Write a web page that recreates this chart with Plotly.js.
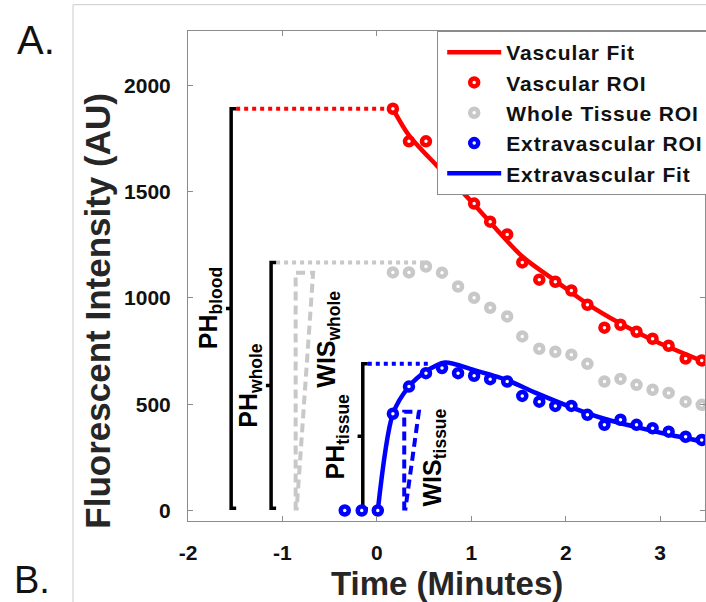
<!DOCTYPE html>
<html>
<head>
<meta charset="utf-8">
<script src="https://cdn.plot.ly/plotly-3.0.1.min.js"></script>
<style>html,body{margin:0;padding:0;background:#fff;overflow:hidden;} #chart{width:706px;height:602px;} .legendtext{letter-spacing:0.9px;}</style>
</head>
<body>
<div id="chart"></div>
<script>
// ---- data (time in minutes, intensity in AU) ----
const timeBlue = [-0.34,-0.16,0.01,0.17,0.34,0.52,0.69,0.86,1.03,1.20,1.38,1.54,1.72,1.89,2.06,2.23,2.41,2.58,2.75,2.92,3.09,3.27,3.44];
const extraROI = [0,0,0,455,583,646,670,646,634,618,607,539,512,492,492,450,403,427,403,387,371,347,332];
const timeROI = [0.17,0.34,0.52,0.69,0.86,1.03,1.20,1.38,1.54,1.72,1.89,2.06,2.23,2.41,2.58,2.75,2.92,3.09,3.27,3.44];
const vascROI = [1890,1737,1737,null,null,1444,1359,1299,1167,1086,1076,1035,968,860,874,841,808,775,715,706];
const wholeROI = [1120,1120,1148,1119,1054,1001,954,913,819,761,747,733,690,607,619,591,568,553,512,497];
const vascFitT = [0.17,0.34,0.63,0.85,1.03,1.54,1.90,2.22,2.57,2.92,3.45];
const vascFitY = [1890,1765,1625,1525,1440,1195,1078,975,882,802,702];
const extraFitT = [0.01,0.17,0.34,0.52,0.72,1.02,1.37,1.69,2.04,2.39,2.75,3.10,3.45];
const extraFitY = [0,455,583,654,696,662,615,552,489,434,392,356,324];
// peak-height brackets: blood, whole, tissue
const bracketNames = ['blood','whole','tissue'];
const bracketX = [-1.543,-1.12,-0.149];
const bracketTop = [1890,1167,690];
const bracketBottom = [10,10,8];
const plateauEnd = [0.17,0.5,0.56];
const plateauColor = ['#ff0000','#c8c8c8','#0000ff'];
// wash-in slope markers (whole, tissue)
const wisLeftX = [-0.86,0.29];
const wisRightX = [-0.675,0.445];
const wisBottomRightX = [-0.85,0.30];
const wisTop = [1118,465];
const wisColor = ['#c8c8c8','#0000ff'];
const xTicks = [-2,-1,0,1,2,3];
const yTicks = [0,500,1000,1500,2000];

const FONT = 'Liberation Sans, Arial, sans-serif';
const traces = [];

// dotted plateau lines
for (let i = 0; i < 3; i++) {
  traces.push({x:[bracketX[i]+0.053, plateauEnd[i]], y:[bracketTop[i], bracketTop[i]], mode:'lines',
    line:{color:plateauColor[i], width:4, dash:'dot'}, showlegend:false, hoverinfo:'skip'});
}
// brackets
for (let i = 0; i < 3; i++) {
  const xv = bracketX[i], mid = (bracketTop[i]+bracketBottom[i])/2;
  traces.push({x:[xv+0.053,xv,xv,xv-0.055,xv,xv,xv+0.053],
    y:[bracketTop[i],bracketTop[i],mid,mid,mid,bracketBottom[i],bracketBottom[i]],
    mode:'lines', line:{color:'#000', width:3.5}, showlegend:false, hoverinfo:'skip'});
}
// WIS triangles
for (let i = 0; i < 2; i++) {
  traces.push({x:[wisLeftX[i],wisLeftX[i],wisRightX[i],wisBottomRightX[i]], y:[0,wisTop[i],wisTop[i],0],
    mode:'lines', line:{color:wisColor[i], width:4, dash:'9px,5px'}, showlegend:false, hoverinfo:'skip'});
}
// fits
traces.push({x:vascFitT, y:vascFitY, mode:'lines', name:'Vascular Fit', legendrank:1,
  line:{color:'#ff0000', width:4.5, shape:'spline', smoothing:0.8}});
traces.push({x:extraFitT, y:extraFitY, mode:'lines', name:'Extravascular Fit', legendrank:5,
  line:{color:'#0000ff', width:4.5, shape:'spline', smoothing:0.8}});
// ROIs
const mk = c => ({size:8, color:'#fff', line:{color:c, width:4.5}});
traces.push({x:timeROI, y:vascROI, mode:'markers', name:'Vascular ROI', legendrank:2, marker:mk('#ff0000')});
traces.push({x:timeROI, y:wholeROI, mode:'markers', name:'Whole Tissue ROI', legendrank:3, marker:mk('#c8c8c8')});
traces.push({x:timeBlue, y:extraROI, mode:'markers', name:'Extravascular ROI', legendrank:4, marker:mk('#0000ff')});

// labels
const ann = [];
const phLabelX = [-1.77,-1.34,-0.42];
const wisLabelX = [-0.52,0.60];
const wisLabelY = [807,247];
for (let i = 0; i < 3; i++) {
  ann.push({x:phLabelX[i], y:(bracketTop[i]+bracketBottom[i])/2, xref:'x', yref:'y', text:'PH<sub>'+bracketNames[i]+'</sub>',
    textangle:-90, showarrow:false, xanchor:'center', yanchor:'middle', font:{family:FONT, size:25, color:'#000', weight:'bold'}});
}
for (let i = 0; i < 2; i++) {
  ann.push({x:wisLabelX[i], y:wisLabelY[i], xref:'x', yref:'y', text:'WIS<sub>'+bracketNames[i+1]+'</sub>',
    textangle:-90, showarrow:false, xanchor:'center', yanchor:'middle', font:{family:FONT, size:25, color:'#000', weight:'bold'}});
}
ann.push({x:-0.1743, y:0.429, xref:'paper', yref:'paper', text:'Fluorescent Intensity (AU)', textangle:-90, showarrow:false,
  xanchor:'center', yanchor:'middle', font:{family:FONT, size:35, color:'#262626', weight:'bold'}});
ann.push({x:0.5, y:-0.128, xref:'paper', yref:'paper', text:'Time (Minutes)', showarrow:false,
  xanchor:'center', yanchor:'middle', font:{family:FONT, size:33, color:'#262626', weight:'bold'}});
ann.push({x:-0.294, y:0.9816, xref:'paper', yref:'paper', text:'A.', showarrow:false, xanchor:'center', yanchor:'middle',
  font:{family:FONT, size:40, color:'#111'}});
ann.push({x:-0.302, y:-0.1204, xref:'paper', yref:'paper', text:'B.', showarrow:false, xanchor:'center', yanchor:'middle',
  font:{family:FONT, size:38, color:'#111'}});

const axisCommon = {showgrid:false, zeroline:false, showline:true, linecolor:'#8c8c8c', linewidth:1, mirror:'ticks',
  ticks:'inside', ticklen:5, tickcolor:'#8c8c8c', tickfont:{family:FONT, size:21, color:'#111', weight:'bold'}};

const layout = {
  width:706, height:602, paper_bgcolor:'#fff', plot_bgcolor:'#fff',
  margin:{l:188, r:1, t:31, b:81, autoexpand:false},
  xaxis:Object.assign({}, axisCommon, {range:[-2,3.475], tickvals:xTicks, ticktext:xTicks.map(String), ticklabelstandoff:13}),
  yaxis:Object.assign({}, axisCommon, {range:[-49.5,2256], tickvals:yTicks, ticktext:yTicks.map(String), ticklabelstandoff:12}),
  legend:{x:0.482, y:1, xanchor:'left', yanchor:'top', bgcolor:'#fff', bordercolor:'#8c8c8c', borderwidth:1,
    font:{family:FONT, size:21, color:'#111', weight:'bold'}, itemwidth:54, indentation:4, traceorder:'normal'},
  annotations:ann,
  shapes:[
    {type:'line', xref:'paper', yref:'paper', x0:-0.2224, x1:-0.2224, y0:1.0537, y1:-0.2, line:{color:'#cccccc', width:1}},
    {type:'line', xref:'paper', yref:'paper', x0:-0.2224, x1:1.1, y0:1.0537, y1:1.0537, line:{color:'#cccccc', width:1}}
  ],
  showlegend:true
};
Plotly.newPlot('chart', traces, layout, {staticPlot:true, displayModeBar:false});
</script>
</body>
</html>
